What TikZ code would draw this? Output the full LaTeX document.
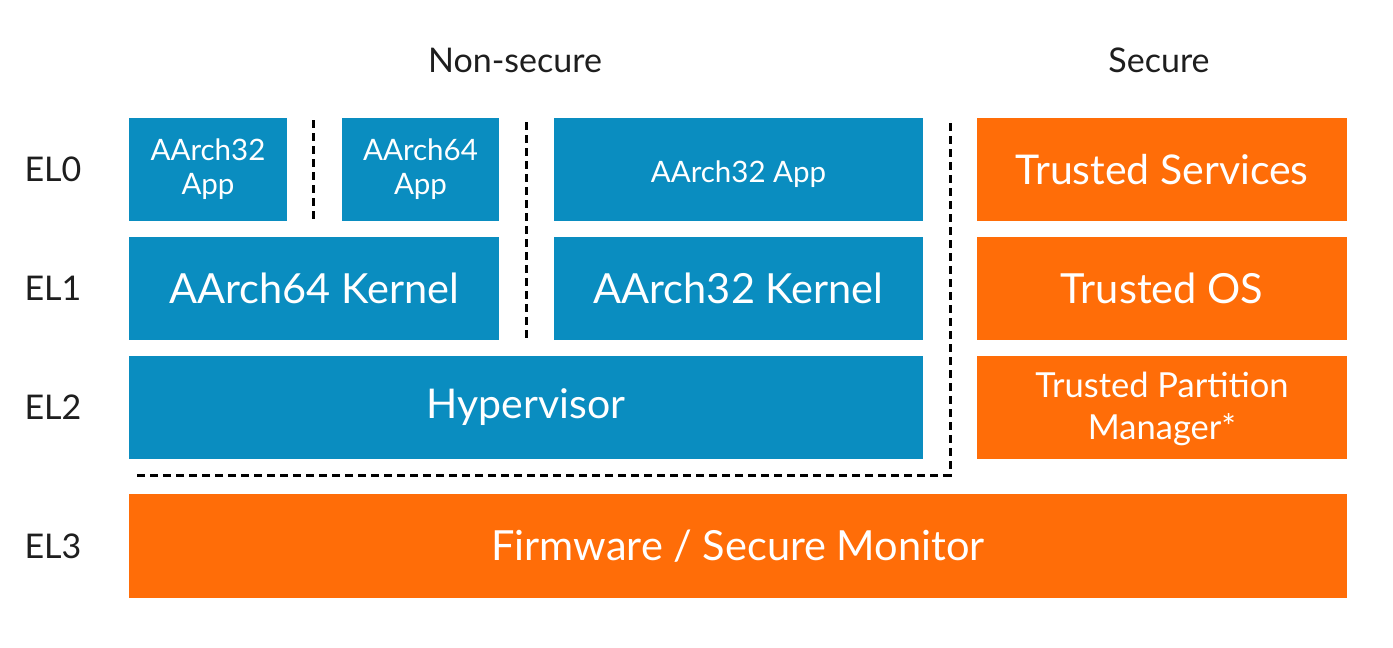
\documentclass[tikz,border=0pt]{standalone}
\usepackage{fontspec}
\setmainfont{Lato}
\definecolor{armblue}{HTML}{0A8DC0}
\definecolor{armorange}{HTML}{FF6D08}
\definecolor{labelgray}{HTML}{1E1E1E}
\newcommand{\fs}[2]{\fontsize{#1}{#2}\selectfont}
\tikzset{
  blk/.style={rectangle, inner sep=0pt, outer sep=0pt, text=white, align=center},
  nsblk/.style={blk, fill=armblue},
  sblk/.style={blk, fill=armorange},
  lbl/.style={text=labelgray, inner sep=0pt, font=\fs{34}{40}},
  sep/.style={draw=black, line width=3pt, dash pattern=on 8pt off 5pt}
}
\begin{document}
\begin{tikzpicture}[x=1pt,y=-1pt]
\useasboundingbox (0,0) rectangle (1393,648);
\fill[white] (0,0) rectangle (1393,648);
% headers
\node[lbl] (ns) at (515,60) {Non-secure};
\node[lbl] (sec) at (1159,60) {Secure};
% EL labels
\node[lbl] (el0) at (53,169.5) {EL0};
\node[lbl] (el1) at (53,288.5) {EL1};
\node[lbl] (el2) at (53,407.5) {EL2};
\node[lbl] (el3) at (53,546) {EL3};
% EL0
\node[nsblk, minimum width=158, minimum height=103, font=\fs{29.5}{34}] (a32app) at (208,169.5) {AArch32\\App};
\node[nsblk, minimum width=157, minimum height=103, font=\fs{29.5}{34}] (a64app) at (420.5,169.5) {AArch64\\App};
\node[nsblk, minimum width=369, minimum height=103] (a32appb) at (738.5,169.5) {};
\node[blk, font=\fs{29.5}{34}] (a32appbt) at (738.5,174) {AArch32 App};
\node[sblk, minimum width=370, minimum height=103, font=\fs{41}{47}] (ts) at (1162,169.5) {Trusted Services};
% EL1
\node[nsblk, minimum width=370, minimum height=103, font=\fs{41.5}{47}] (k64) at (314,288.5) {AArch64 Kernel};
\node[nsblk, minimum width=369, minimum height=103, font=\fs{41.5}{47}] (k32) at (738.5,288.5) {AArch32 Kernel};
\node[sblk, minimum width=370, minimum height=103, font=\fs{41.5}{47}] (tos) at (1162,288.5) {Trusted OS};
% EL2
\node[nsblk, minimum width=794, minimum height=103, font=\fs{41}{47}] (hyp) at (526,407.5) {Hypervisor};
\node[sblk, minimum width=370, minimum height=103] (tpm) at (1162,407.5) {};
\node[blk, font=\fs{34.5}{42}] (tpmt) at (1162,409) {Trusted Partition\\Manager*};
% EL3
\node[sblk, minimum width=1218, minimum height=104, font=\fs{41.5}{47}] (fw) at (738,546) {Firmware / Secure Monitor};
% separators
\coordinate (s1a) at (313,120);
\coordinate (s1b) at (313,222);
\coordinate (s2a) at (526,122);
\coordinate (s2b) at (526,341);
\coordinate (s3a) at (950,123);
\coordinate (s3c) at (950,475);
\coordinate (s3b) at (135,475);
\draw[sep] (s1a) -- (s1b);
\draw[sep] (s2a) -- (s2b);
\draw[sep] (s3a) -- (s3c) -- (s3b);
\end{tikzpicture}
\end{document}
